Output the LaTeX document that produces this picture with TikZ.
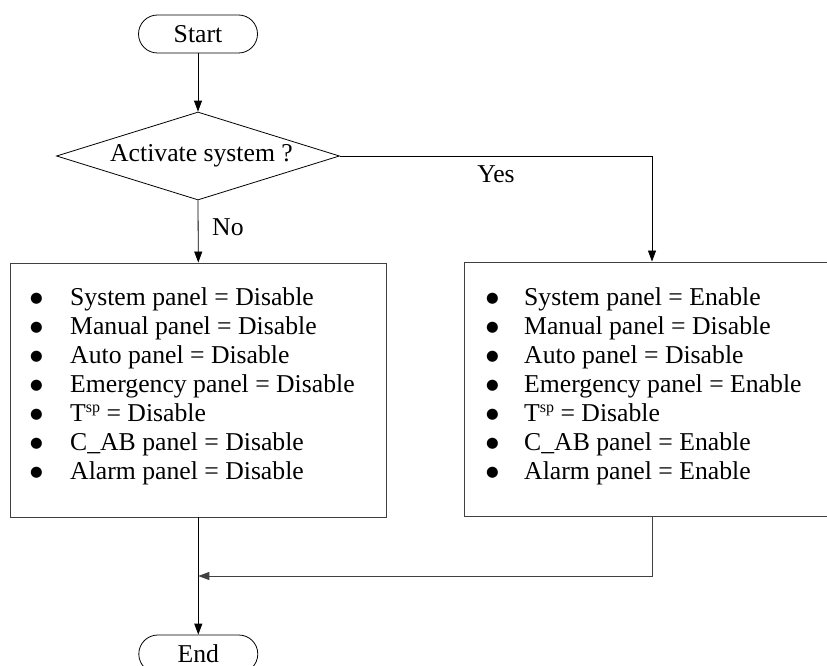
\documentclass[tikz,border=0pt]{standalone}
\usepackage{fontspec}
\setmainfont{Liberation Serif}
\newfontfamily\symfont{DejaVu Sans}
\usetikzlibrary{shapes.geometric,arrows.meta}
% T with a small raised "sp"
\newcommand\tsetp{T\raisebox{8.5pt}{\fontsize{16}{16}\selectfont sp}}
% list bullet
\newcommand\bigbul{\raisebox{3pt}{\symfont\fontsize{14.5}{14.5}\selectfont ●}}
\begin{document}
\begin{tikzpicture}[x=1pt,y=-1pt,
  txt/.style={font=\fontsize{25.7}{29}\selectfont, inner sep=0pt},
  terminal/.style={txt, draw, line width=0.8pt, rounded corners=19pt,
    minimum width=119pt, minimum height=38pt},
  decision/.style={txt, draw, diamond, line width=0.8pt,
    minimum width=283pt, minimum height=88pt},
  panel/.style={draw=black!75, line width=0.9pt, minimum width=376pt,
    minimum height=254pt, inner sep=0pt},
  item/.style={txt, anchor=base west},
  flow/.style={line width=0.8pt, -{Triangle[length=11pt,width=8pt]}},
  lbl/.style={txt, anchor=base west}]
\useasboundingbox (0,0) rectangle (827,666);

% terminals and decision
\node[terminal] (start) at (198,34) {Start};
\node[decision] (dec) at (198,156) {\makebox[0pt]{\hspace{7pt}Activate system ?}};

% the two panel-setting boxes
\node[panel] (off) at (198.3,390) {};
\node[panel] (on) at (652,389) {};
\node[terminal] (end) at (198.3,654) {End};

% bullet lists
\foreach \t [count=\i] in {System panel = Disable, Manual panel = Disable,
    Auto panel = Disable, Emergency panel = Disable, \tsetp{} = Disable,
    C\_AB panel = Disable, Alarm panel = Disable}{
  \node[item] (offitem\i) at (70,{305+29*(\i-1)}) {\t};
  \node[item, anchor=base] (offdot\i) at (36.5,{305+29*(\i-1)}) {\bigbul};
}
\foreach \t [count=\i] in {System panel = Enable, Manual panel = Disable,
    Auto panel = Disable, Emergency panel = Enable, \tsetp{} = Disable,
    C\_AB panel = Enable, Alarm panel = Enable}{
  \node[item] (onitem\i) at (524,{305+29*(\i-1)}) {\t};
  \node[item, anchor=base] (ondot\i) at (492.5,{305+29*(\i-1)}) {\bigbul};
}

% connectors
\draw[flow] (start) -- (dec);
\draw[flow] (dec.south) -- (off.north);
\node[lbl] (no) at (212,235) {No};
\draw[flow] (dec.east) -| (on.north);
\node[txt, anchor=base] (yes) at (496,182) {Yes};
\draw[flow] (off.south) -- (end.north);
\coordinate (join) at (off.south |- 0,576);
\draw[flow, draw=black!75] (on.south) |- (join);
\end{tikzpicture}
\end{document}
